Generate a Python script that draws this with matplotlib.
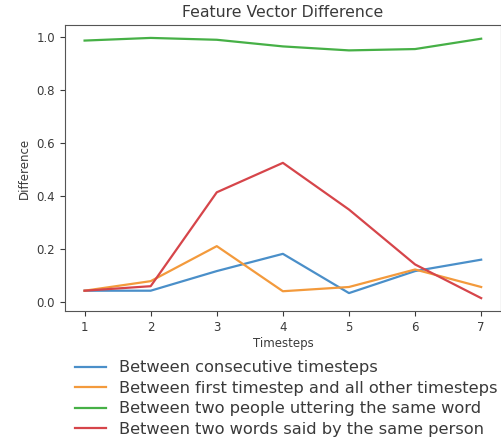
import matplotlib
matplotlib.use('Agg')
import matplotlib.pyplot as plt

plt.rcParams['font.family'] = ['DejaVu Sans']
plt.rcParams['text.color'] = '#3a3a3a'
plt.rcParams['axes.labelcolor'] = '#3a3a3a'
plt.rcParams['xtick.color'] = '#3a3a3a'
plt.rcParams['ytick.color'] = '#3a3a3a'
plt.rcParams['axes.edgecolor'] = '#555555'

timesteps = [1, 2, 3, 4, 5, 6, 7]

consecutive = [0.044, 0.044, 0.118, 0.183, 0.035, 0.118, 0.161]
first_vs_all = [0.044, 0.080, 0.212, 0.042, 0.058, 0.124, 0.058]
two_people = [0.987, 0.997, 0.990, 0.965, 0.950, 0.955, 0.994]
two_words = [0.044, 0.061, 0.415, 0.526, 0.350, 0.143, 0.016]

labels = ['Between consecutive timesteps',
          'Between first timestep and all other timesteps',
          'Between two people uttering the same word',
          'Between two words said by the same person']
colors = ['#4a8fc9', '#f39a3c', '#46b046', '#d6454a']

fig = plt.figure(figsize=(5.02, 4.37), dpi=100)
ax = fig.add_axes([0.129, 0.288, 0.869, 0.655])

for series, lab, c in zip([consecutive, first_vs_all, two_people, two_words], labels, colors):
    ax.plot(timesteps, series, label=lab, color=c, linewidth=1.6)

ax.set_title('Feature Vector Difference', fontsize=11.3)
ax.set_xlabel('Timesteps', fontsize=8.5, labelpad=2)
ax.set_ylabel('Difference', fontsize=8.5)
ax.set_xticks(timesteps)
ax.tick_params(labelsize=8.5)

fig.legend(loc='upper left', bbox_to_anchor=(0.137, 0.19), frameon=False,
           fontsize=11.7, labelspacing=0.33, handlelength=1.9, borderaxespad=0)

fig.savefig('out.png', dpi=100)
